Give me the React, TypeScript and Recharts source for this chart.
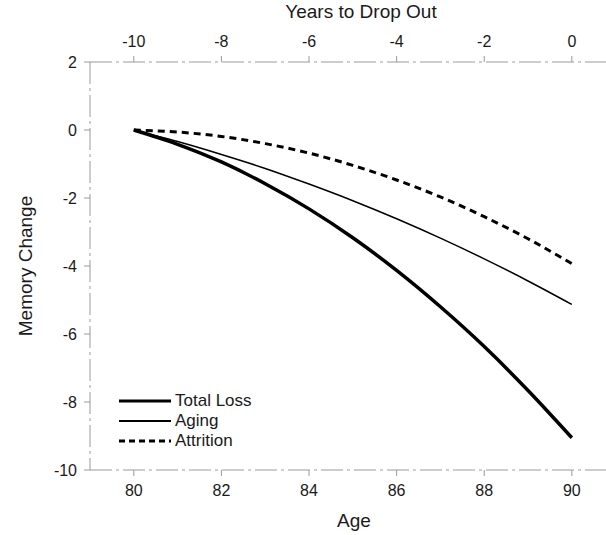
import { LineChart, Line, XAxis, YAxis, Label } from "recharts"

const ages = [80, 81, 82, 83, 84, 85, 86, 87, 88, 89, 90]
const totalLoss = [0, -0.42, -0.94, -1.58, -2.32, -3.17, -4.13, -5.2, -6.37, -7.66, -9.05]
const aging = [0, -0.34, -0.72, -1.13, -1.59, -2.08, -2.61, -3.18, -3.79, -4.44, -5.13]
const attrition = [0, -0.06, -0.19, -0.4, -0.68, -1.04, -1.47, -1.97, -2.55, -3.2, -3.93]

const ageTicks = [80, 82, 84, 86, 88, 90]
const dropOutTicks = ["-10", "-8", "-6", "-4", "-2", "0"]
const memoryTicks = [-10, -8, -6, -4, -2, 0, 2]

const series = [
  { key: "total", name: "Total Loss", width: 3.5, dash: undefined },
  { key: "aging", name: "Aging", width: 1.5, dash: undefined },
  { key: "attrition", name: "Attrition", width: 3, dash: "7 5" },
]

const data = ages.map((age, i) => ({
  age,
  total: totalLoss[i],
  aging: aging[i],
  attrition: attrition[i],
}))

const FONT = "'Liberation Sans', Arial, Helvetica, sans-serif"
const INK = "#1a1a1a"
const AXIS = "#9a9a9a"
const tick = { fontSize: 16, fill: INK, fontFamily: FONT }
const title = { fontSize: 19, fill: INK, fontFamily: FONT }

// legend sits inside the plot, lower left
function LegendBox() {
  return (
    <div style={{
      position: "absolute", left: 118, top: 391,
      fontFamily: FONT, fontSize: 17, color: INK, lineHeight: "20px",
    }}>
      {series.map((s) => (
        <div key={s.key} style={{ display: "flex", alignItems: "center", height: 20 }}>
          <svg width={54} height={20} style={{ display: "block" }}>
            <line
              x1={1} x2={53} y1={10} y2={10}
              stroke="#000" strokeWidth={s.key === "aging" ? 1.8 : 3}
              strokeDasharray={s.dash ? "6 4" : undefined}
            />
          </svg>
          <span style={{ marginLeft: 3 }}>{s.name}</span>
        </div>
      ))}
    </div>
  )
}

export default function App() {
  return (
    <div style={{ position: "absolute", left: 0, top: 0, width: 606, height: 535, overflow: "hidden", background: "#fff" }}>
      <LineChart width={606} height={535} data={data} margin={{ top: 0, right: 0, bottom: 0, left: 0 }}>
        <XAxis
          xAxisId="bottom" dataKey="age" type="number" domain={[79, 90.78]}
          ticks={ageTicks} allowDataOverflow height={65}
          tick={tick} tickSize={6} tickMargin={9}
          stroke={AXIS} strokeDasharray="22 4 3 4"
          tickLine={{ stroke: AXIS, strokeDasharray: "none" }}
        >
          <Label value="Age" position="insideBottom" offset={8} dx={6} style={title} />
        </XAxis>
        <XAxis
          xAxisId="top" orientation="top" dataKey="age" type="number" domain={[79, 90.78]}
          ticks={ageTicks} allowDataOverflow height={62}
          tickFormatter={(v) => dropOutTicks[ageTicks.indexOf(v)] ?? ""}
          tick={tick} tickSize={6} tickMargin={9}
          stroke={AXIS} strokeDasharray="22 4 3 4"
          tickLine={{ stroke: AXIS, strokeDasharray: "none" }}
        >
          <Label value="Years to Drop Out" position="insideTop" offset={5} dx={13} style={title} />
        </XAxis>
        <YAxis
          domain={[-10, 2]} ticks={memoryTicks} width={90}
          tick={tick} tickSize={6} tickMargin={7}
          stroke={AXIS} strokeDasharray="22 4 3 4"
          tickLine={{ stroke: AXIS, strokeDasharray: "none" }}
        >
          <Label value="Memory Change" position="insideLeft" angle={-90} offset={25}
            style={{ ...title, textAnchor: "middle" }} />
        </YAxis>
        {series.map((s) => (
          <Line
            key={s.key}
            xAxisId="bottom"
            type="monotone"
            dataKey={s.key}
            name={s.name}
            stroke="#000"
            strokeWidth={s.width}
            strokeDasharray={s.dash}
            dot={false}
            activeDot={false}
            isAnimationActive={false}
          />
        ))}
      </LineChart>
      <LegendBox />
    </div>
  )
}
